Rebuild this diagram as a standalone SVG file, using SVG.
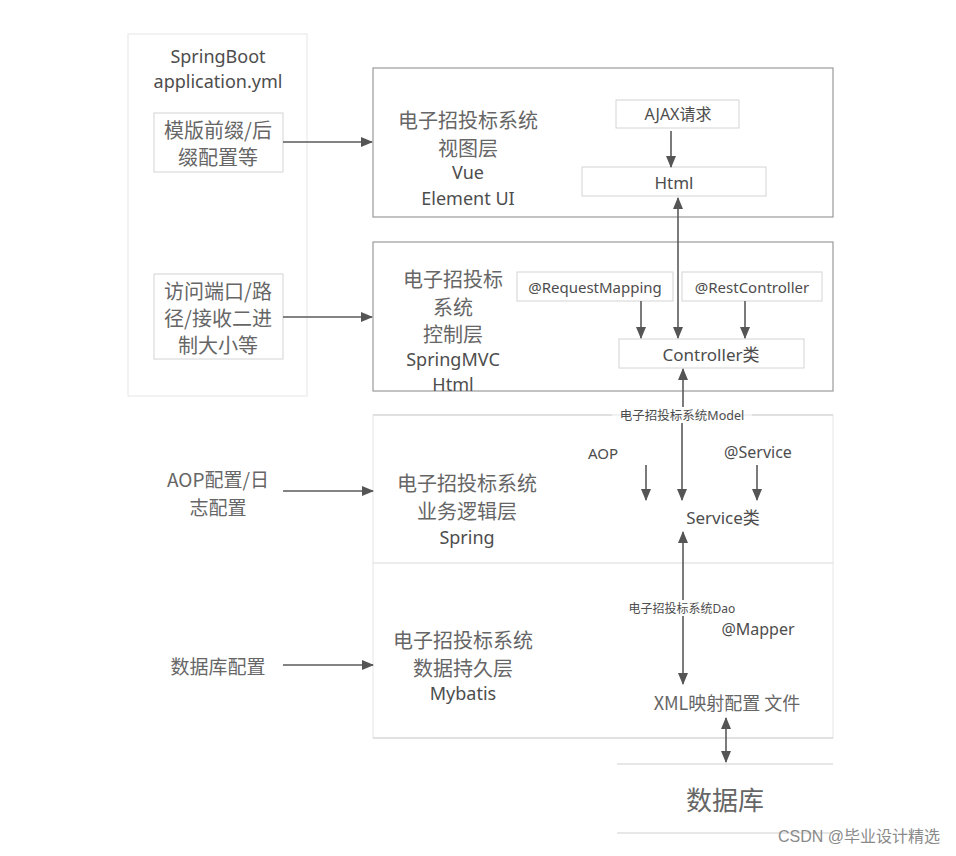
<svg xmlns="http://www.w3.org/2000/svg" width="956" height="856" viewBox="0 0 956 856">
<defs>
<marker id="ah" viewBox="0 0 12 10" refX="11" refY="5" markerWidth="12" markerHeight="10" markerUnits="userSpaceOnUse" orient="auto-start-reverse">
<path d="M0,0 L12,5 L0,10 z" fill="#555"/>
</marker>
<style>
.t{font-family:"Noto Sans","Noto Sans CJK SC",sans-serif;fill:#4d4d4d;text-anchor:middle;dominant-baseline:central}
.c{font-family:"Noto Sans CJK SC","Noto Sans",sans-serif;fill:#666;text-anchor:middle;dominant-baseline:central}
.big{fill:none;stroke:#9a9a9a;stroke-width:1.2}
.faint{fill:none;stroke:#e6e6e6;stroke-width:1}
.small{fill:#fff;stroke:#d4d4d4;stroke-width:1}
.ln{stroke:#5a5a5a;stroke-width:1.6;fill:none}
.hl{stroke:#cfcfcf;stroke-width:1;fill:none}
</style>
</defs>
<rect width="956" height="856" fill="#fff"/>

<g id="springboot">
<rect class="faint" x="128" y="34" width="179" height="362"/>
<text class="t" x="218" y="56" font-size="18">SpringBoot</text>
<text class="t" x="218" y="81" font-size="18">application.yml</text>
</g>
<g id="cfg-template">
<rect class="small" x="154" y="113" width="129" height="59"/>
<text class="c" x="218" y="129" font-size="20">模版前缀/后</text>
<text class="c" x="218" y="156" font-size="20">缀配置等</text>
</g>
<g id="cfg-port">
<rect class="small" x="154" y="274" width="129" height="85"/>
<text class="c" x="218" y="290" font-size="20">访问端口/路</text>
<text class="c" x="218" y="317" font-size="20">径/接收二进</text>
<text class="c" x="218" y="344" font-size="20">制大小等</text>
</g>
<g id="cfg-aop">
<text class="c" x="218" y="478" font-size="19">AOP配置/日</text>
<text class="c" x="218" y="506" font-size="19">志配置</text>
</g>
<g id="cfg-db">
<text class="c" x="218" y="665" font-size="19">数据库配置</text>
</g>

<g id="view-layer">
<rect class="big" x="373" y="68" width="460" height="149"/>
<text class="c" x="468" y="119" font-size="20">电子招投标系统</text>
<text class="c" x="468" y="147" font-size="20">视图层</text>
<text class="t" x="468" y="172" font-size="18">Vue</text>
<text class="t" x="468" y="198" font-size="18">Element UI</text>
</g>
<g id="ajax">
<rect class="small" x="616" y="100" width="123" height="28"/>
<text class="t" x="678" y="114" font-size="16">AJAX请求</text>
</g>
<g id="html">
<rect class="small" x="582" y="167" width="184" height="29"/>
<text class="t" x="674" y="182" font-size="17">Html</text>
</g>

<g id="control-layer">
<rect class="big" x="373" y="242" width="460" height="149"/>
<text class="c" x="453" y="278" font-size="20">电子招投标</text>
<text class="c" x="453" y="306" font-size="20">系统</text>
<text class="c" x="453" y="333" font-size="20">控制层</text>
<text class="t" x="453" y="359" font-size="18">SpringMVC</text>
<text class="t" x="453" y="384" font-size="18">Html</text>
</g>
<g id="requestmapping">
<rect class="small" x="517" y="272" width="156" height="29"/>
<text class="t" x="595" y="287" font-size="15">@RequestMapping</text>
</g>
<g id="restcontroller">
<rect class="small" x="682" y="272" width="140" height="29"/>
<text class="t" x="752" y="287" font-size="15">@RestController</text>
</g>
<g id="controller">
<rect class="small" x="619" y="339" width="185" height="29"/>
<text class="t" x="711" y="354" font-size="17">Controller类</text>
</g>

<g id="business-layer">
<rect class="faint" x="373" y="415" width="460" height="148"/>
<line class="hl" x1="373" y1="415" x2="612" y2="415"/>
<line class="hl" x1="752" y1="415" x2="833" y2="415"/>
<text class="c" x="467" y="482" font-size="20">电子招投标系统</text>
<text class="c" x="467" y="510" font-size="20">业务逻辑层</text>
<text class="t" x="467" y="537" font-size="18">Spring</text>
</g>
<g id="model-label">
<text class="t" x="682" y="415" font-size="12.5">电子招投标系统Model</text>
</g>
<g id="aop"><text class="t" x="603" y="453" font-size="15">AOP</text></g>
<g id="service-anno"><text class="t" x="758" y="452" font-size="16">@Service</text></g>
<g id="service"><text class="t" x="723" y="517" font-size="17">Service类</text></g>

<g id="persistence-layer">
<rect class="faint" x="373" y="563" width="460" height="175"/>
<line class="hl" x1="373" y1="738" x2="833" y2="738"/>
<text class="c" x="463" y="639" font-size="20">电子招投标系统</text>
<text class="c" x="463" y="667" font-size="20">数据持久层</text>
<text class="t" x="463" y="693" font-size="18">Mybatis</text>
</g>
<g id="dao-label"><text class="t" x="682" y="608" font-size="12">电子招投标系统Dao</text></g>
<g id="mapper"><text class="t" x="758" y="629" font-size="16">@Mapper</text></g>
<g id="xml"><text class="c" x="727" y="702" font-size="18">XML映射配置 文件</text></g>

<g id="database">
<line class="hl" x1="617" y1="764" x2="833" y2="764"/>
<line class="hl" x1="617" y1="833" x2="833" y2="833"/>
<text class="c" x="725" y="798" font-size="26">数据库</text>
</g>

<g id="connectors">
<line class="ln" x1="283" y1="142" x2="372" y2="142" marker-end="url(#ah)"/>
<line class="ln" x1="283" y1="317" x2="372" y2="317" marker-end="url(#ah)"/>
<line class="ln" x1="283" y1="491" x2="373" y2="491" marker-end="url(#ah)"/>
<line class="ln" x1="283" y1="665" x2="373" y2="665" marker-end="url(#ah)"/>
<line class="ln" x1="671" y1="131" x2="671" y2="167" marker-end="url(#ah)"/>
<line class="ln" x1="678" y1="198" x2="678" y2="338" marker-start="url(#ah)" marker-end="url(#ah)"/>
<line class="ln" x1="641" y1="301" x2="641" y2="338" marker-end="url(#ah)"/>
<line class="ln" x1="745" y1="301" x2="745" y2="338" marker-end="url(#ah)"/>
<line class="ln" x1="683" y1="407" x2="683" y2="369" marker-end="url(#ah)"/>
<line class="ln" x1="682" y1="423" x2="682" y2="500" marker-end="url(#ah)"/>
<line class="ln" x1="646" y1="465" x2="646" y2="500" marker-end="url(#ah)"/>
<line class="ln" x1="757" y1="465" x2="757" y2="500" marker-end="url(#ah)"/>
<line class="ln" x1="683" y1="600" x2="683" y2="532" marker-end="url(#ah)"/>
<line class="ln" x1="683" y1="616" x2="683" y2="684" marker-end="url(#ah)"/>
<line class="ln" x1="726" y1="718" x2="726" y2="762" marker-start="url(#ah)" marker-end="url(#ah)"/>
</g>

<text x="940" y="836" font-family="Liberation Sans, Noto Sans CJK SC, sans-serif" font-size="16" fill="#8a8a8a" text-anchor="end" dominant-baseline="central">CSDN @毕业设计精选</text>
</svg>
